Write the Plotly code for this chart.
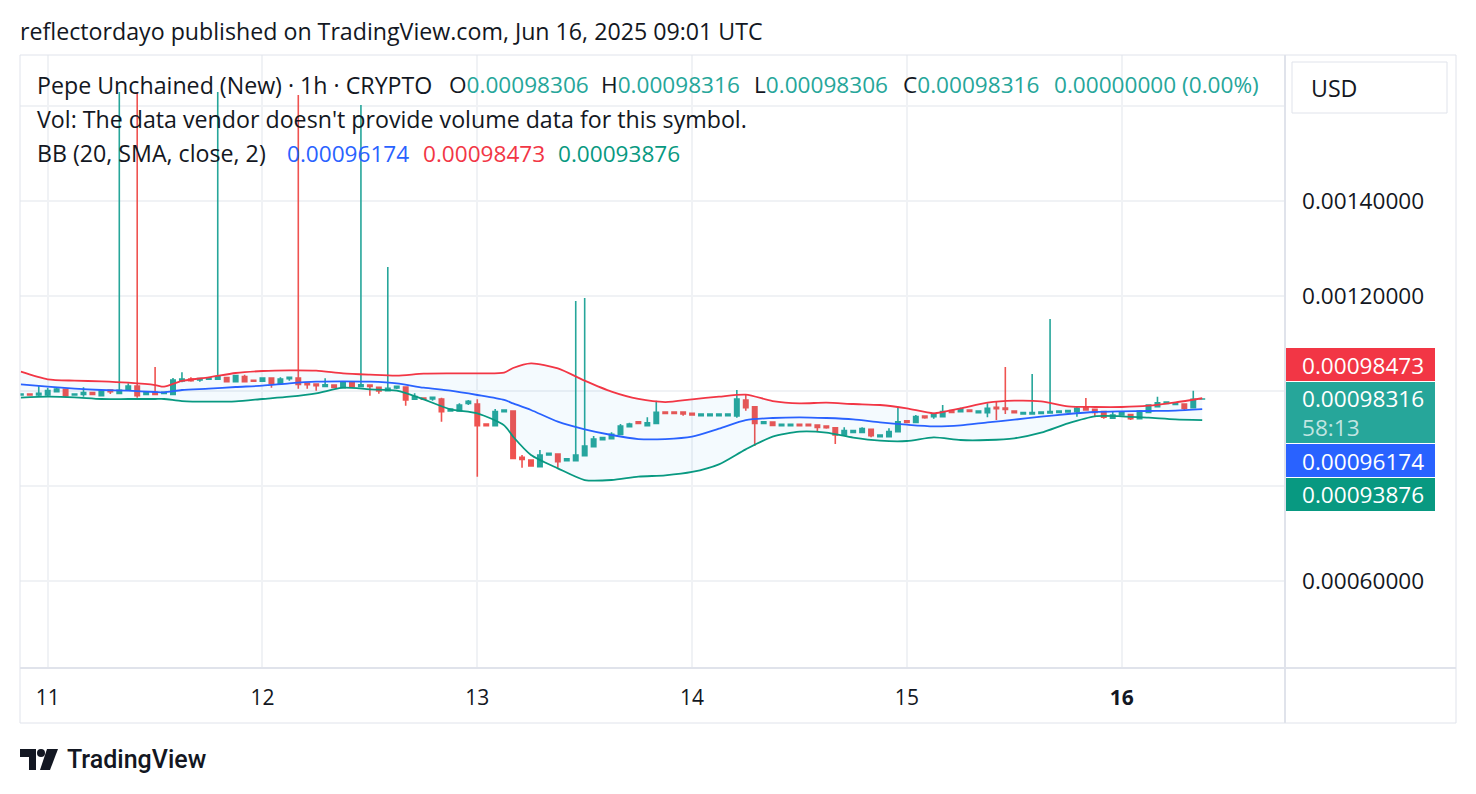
import plotly.graph_objects as go
import pandas as pd

# ---------------- data (hourly candles, Jun 10 21:00 -> Jun 16 09:00 UTC) ----------------
start_time = "2025-06-10 21:00"

open_ = [
    0.0009916, 0.0009937, 0.0009916,
    0.0009916, 0.0009986, 0.0010035, 0.0009916, 0.0009930, 0.0009965, 0.0009902, 0.0010021, 0.0009951, 0.0010021,
    0.0010105, 0.0009930, 0.0009972, 0.0009951, 0.0009930, 0.0010211, 0.0010253, 0.0010232, 0.0010246, 0.0010246,
    0.0010281, 0.0010196, 0.0010302, 0.0010225, 0.0010204, 0.0010274, 0.0010161, 0.0010260, 0.0010274, 0.0010161,
    0.0010147, 0.0010098, 0.0010126, 0.0010070, 0.0010175, 0.0010098, 0.0010126, 0.0010077, 0.0010007, 0.0010063,
    0.0010084, 0.0009825, 0.0009853, 0.0009832, 0.0009832, 0.0009579, 0.0009579, 0.0009740, 0.0009726, 0.0009305,
    0.0009270, 0.0009565, 0.0009579, 0.0008604, 0.0008547, 0.0008407, 0.0008653, 0.0008674, 0.0008533, 0.0008533,
    0.0008639, 0.0008828, 0.0008975, 0.0008996, 0.0009088, 0.0009249, 0.0009354, 0.0009270, 0.0009319, 0.0009558,
    0.0009558, 0.0009558, 0.0009530, 0.0009481, 0.0009481, 0.0009481, 0.0009481, 0.0009474, 0.0009811, 0.0009670,
    0.0009319, 0.0009347, 0.0009270, 0.0009270, 0.0009298, 0.0009298, 0.0009284, 0.0009263, 0.0009228, 0.0009074,
    0.0009130, 0.0009130, 0.0009193, 0.0009039, 0.0009039, 0.0009144, 0.0009375, 0.0009340, 0.0009474, 0.0009460,
    0.0009460, 0.0009586, 0.0009565, 0.0009600, 0.0009544, 0.0009544, 0.0009656, 0.0009642, 0.0009579, 0.0009516,
    0.0009516, 0.0009530, 0.0009537, 0.0009551, 0.0009558, 0.0009565, 0.0009670, 0.0009614, 0.0009565, 0.0009425,
    0.0009495, 0.0009502, 0.0009418, 0.0009551, 0.0009670, 0.0009740, 0.0009719, 0.0009726, 0.0009649, 0.00098306,
]
high = [
    0.0009944, 0.0009944, 0.0010105,
    0.0010070, 0.0010070, 0.0010042, 0.0009944, 0.0010077, 0.0009979, 0.0010007, 0.0010028, 0.0016295, 0.0010161,
    0.0016295, 0.0009972, 0.0010505, 0.0009979, 0.0010274, 0.0010393, 0.0010288, 0.0010274, 0.0010281, 0.0016295,
    0.0010288, 0.0010344, 0.0010344, 0.0010232, 0.0010288, 0.0010288, 0.0010288, 0.0010295, 0.0016232, 0.0010168,
    0.0010154, 0.0010267, 0.0010133, 0.0010182, 0.0010189, 0.0016021, 0.0010133, 0.0010084, 0.0012611, 0.0010105,
    0.0010091, 0.0009951, 0.0009860, 0.0009874, 0.0009860, 0.0009628, 0.0009740, 0.0009811, 0.0009825, 0.0009312,
    0.0009621, 0.0009607, 0.0009586, 0.0008653, 0.0008554, 0.0008758, 0.0008695, 0.0008681, 0.0008582, 0.0011895,
    0.0011958, 0.0009053, 0.0009025, 0.0009130, 0.0009305, 0.0009333, 0.0009361, 0.0009446, 0.0009796, 0.0009565,
    0.0009565, 0.0009565, 0.0009537, 0.0009523, 0.0009523, 0.0009523, 0.0009523, 0.0010021, 0.0009930, 0.0009677,
    0.0009361, 0.0009354, 0.0009305, 0.0009305, 0.0009305, 0.0009305, 0.0009291, 0.0009270, 0.0009235, 0.0009235,
    0.0009172, 0.0009235, 0.0009200, 0.0009081, 0.0009214, 0.0009656, 0.0009382, 0.0009495, 0.0009481, 0.0009544,
    0.0009705, 0.0009593, 0.0009649, 0.0009607, 0.0009586, 0.0009740, 0.0009775, 0.0010505, 0.0009586, 0.0009551,
    0.0010358, 0.0009565, 0.0011516, 0.0009586, 0.0009593, 0.0009670, 0.0009853, 0.0009621, 0.0009572, 0.0009579,
    0.0009551, 0.0009509, 0.0009600, 0.0009712, 0.0009881, 0.0009775, 0.0009761, 0.0009733, 0.0010007, 0.00098316,
]
low = [
    0.0009909, 0.0009909, 0.0009895,
    0.0009881, 0.0009972, 0.0009867, 0.0009909, 0.0009881, 0.0009916, 0.0009895, 0.0009937, 0.0009944, 0.0010014,
    0.0009860, 0.0009909, 0.0009923, 0.0009944, 0.0009923, 0.0010182, 0.0010196, 0.0010196, 0.0010239, 0.0010232,
    0.0010189, 0.0010189, 0.0010189, 0.0010196, 0.0010196, 0.0010070, 0.0010154, 0.0010218, 0.0010049, 0.0010049,
    0.0010007, 0.0010091, 0.0010070, 0.0010063, 0.0010084, 0.0010091, 0.0009902, 0.0009944, 0.0010000, 0.0010042,
    0.0009691, 0.0009818, 0.0009818, 0.0009796, 0.0009354, 0.0009572, 0.0009572, 0.0009705, 0.0008197, 0.0009263,
    0.0009263, 0.0009558, 0.0008575, 0.0008386, 0.0008414, 0.0008400, 0.0008646, 0.0008386, 0.0008526, 0.0008526,
    0.0008632, 0.0008821, 0.0008968, 0.0008989, 0.0009081, 0.0009242, 0.0009312, 0.0009263, 0.0009312, 0.0009523,
    0.0009523, 0.0009481, 0.0009488, 0.0009474, 0.0009474, 0.0009474, 0.0009474, 0.0009439, 0.0009586, 0.0008842,
    0.0009312, 0.0009270, 0.0009263, 0.0009263, 0.0009263, 0.0009263, 0.0009158, 0.0009207, 0.0008884, 0.0009067,
    0.0009123, 0.0009123, 0.0009025, 0.0009032, 0.0009032, 0.0009137, 0.0009333, 0.0009333, 0.0009418, 0.0009418,
    0.0009453, 0.0009544, 0.0009558, 0.0009565, 0.0009537, 0.0009446, 0.0009389, 0.0009516, 0.0009537, 0.0009509,
    0.0009509, 0.0009523, 0.0009530, 0.0009544, 0.0009551, 0.0009460, 0.0009586, 0.0009474, 0.0009418, 0.0009418,
    0.0009488, 0.0009389, 0.0009411, 0.0009544, 0.0009663, 0.0009733, 0.0009712, 0.0009579, 0.0009642, 0.00098306,
]
close = [
    0.0009937, 0.0009916, 0.0009951,
    0.0010007, 0.0010042, 0.0009895, 0.0009937, 0.0009965, 0.0009930, 0.0010000, 0.0009986, 0.0010014, 0.0010105,
    0.0009902, 0.0009965, 0.0009930, 0.0009972, 0.0010232, 0.0010253, 0.0010218, 0.0010260, 0.0010274, 0.0010302,
    0.0010196, 0.0010323, 0.0010196, 0.0010204, 0.0010274, 0.0010161, 0.0010253, 0.0010288, 0.0010140, 0.0010133,
    0.0010112, 0.0010133, 0.0010077, 0.0010175, 0.0010091, 0.0010133, 0.0010098, 0.0010000, 0.0010056, 0.0010098,
    0.0009811, 0.0009881, 0.0009825, 0.0009867, 0.0009565, 0.0009621, 0.0009705, 0.0009782, 0.0009270, 0.0009270,
    0.0009565, 0.0009600, 0.0008582, 0.0008561, 0.0008421, 0.0008653, 0.0008688, 0.0008512, 0.0008575, 0.0008653,
    0.0008842, 0.0008989, 0.0009018, 0.0009088, 0.0009263, 0.0009305, 0.0009319, 0.0009333, 0.0009551, 0.0009530,
    0.0009530, 0.0009516, 0.0009495, 0.0009516, 0.0009516, 0.0009516, 0.0009516, 0.0009832, 0.0009649, 0.0009319,
    0.0009354, 0.0009277, 0.0009298, 0.0009298, 0.0009270, 0.0009270, 0.0009235, 0.0009228, 0.0009074, 0.0009165,
    0.0009165, 0.0009207, 0.0009060, 0.0009074, 0.0009144, 0.0009354, 0.0009340, 0.0009460, 0.0009439, 0.0009516,
    0.0009565, 0.0009551, 0.0009621, 0.0009572, 0.0009579, 0.0009635, 0.0009628, 0.0009614, 0.0009544, 0.0009544,
    0.0009544, 0.0009558, 0.0009565, 0.0009579, 0.0009586, 0.0009635, 0.0009600, 0.0009551, 0.0009446, 0.0009495,
    0.0009544, 0.0009418, 0.0009579, 0.0009705, 0.0009754, 0.0009768, 0.0009754, 0.0009635, 0.0009825, 0.00098316,
]

# Bollinger Bands (20, SMA, close, 2), hours from Jun 11 00:00
bb_hours = [-3, 0, 3, 6, 9, 12, 13, 15, 18, 21, 24, 27, 30, 33, 36, 39, 42, 45, 48, 51, 52,
            54, 57, 60, 63, 66, 69, 72, 75, 78, 81, 84, 87, 90, 93, 96, 99, 102, 105, 108,
            111, 114, 117, 120, 123, 126, 129]
bb_upper = [0.0010407, 0.0010246, 0.0010218, 0.0010204, 0.0010175, 0.0010126, 0.0010091, 0.0010211,
            0.0010288, 0.0010379, 0.0010421, 0.0010435, 0.0010428, 0.0010372, 0.0010344, 0.0010323,
            0.0010365, 0.0010372, 0.0010372, 0.0010386, 0.0010484, 0.0010582, 0.0010477, 0.0010218,
            0.0009986, 0.0009832, 0.0009768, 0.0009825, 0.0009881, 0.0009923, 0.0009789, 0.0009740,
            0.0009754, 0.0009726, 0.0009705, 0.0009635, 0.0009530, 0.0009635, 0.0009754, 0.0009796,
            0.0009782, 0.0009677, 0.0009663, 0.0009663, 0.0009691, 0.0009761, 0.00098473]
bb_basis = [0.0010140, 0.0010091, 0.0010049, 0.0010021, 0.0010007, 0.0009979, 0.0009972, 0.0010021,
            0.0010049, 0.0010084, 0.0010112, 0.0010161, 0.0010196, 0.0010204, 0.0010196, 0.0010161,
            0.0010070, 0.0010007, 0.0009916, 0.0009811, 0.0009740, 0.0009600, 0.0009354, 0.0009193,
            0.0009074, 0.0008989, 0.0008989, 0.0009039, 0.0009207, 0.0009389, 0.0009432, 0.0009446,
            0.0009432, 0.0009404, 0.0009340, 0.0009291, 0.0009256, 0.0009277, 0.0009340, 0.0009396,
            0.0009460, 0.0009516, 0.0009558, 0.0009572, 0.0009579, 0.0009586, 0.00096174]
bb_lower = [0.0009860, 0.0009881, 0.0009867, 0.0009832, 0.0009832, 0.0009832, 0.0009832, 0.0009789,
            0.0009775, 0.0009782, 0.0009832, 0.0009881, 0.0009951, 0.0010070, 0.0010035, 0.0010007,
            0.0009825, 0.0009614, 0.0009530, 0.0009277, 0.0009039, 0.0008653, 0.0008372, 0.0008126,
            0.0008126, 0.0008197, 0.0008225, 0.0008295, 0.0008456, 0.0008772, 0.0009039, 0.0009144,
            0.0009123, 0.0009018, 0.0008954, 0.0008947, 0.0009025, 0.0008968, 0.0008968, 0.0009004,
            0.0009123, 0.0009319, 0.0009467, 0.0009467, 0.0009439, 0.0009404, 0.00093876]

day_ticks = ["2025-06-11", "2025-06-12", "2025-06-13", "2025-06-14", "2025-06-15", "2025-06-16"]
day_labels = ["11", "12", "13", "14", "15", "<b>16</b>"]
price_ticks = [0.0006, 0.0008, 0.0010, 0.0012, 0.0014, 0.0016]
price_labels = ["0.00060000", "", "", "0.00120000", "0.00140000", ""]

# ---------------- styling ----------------
FONT = "'Open Sans', Roboto, sans-serif"
TXT = "#131722"
UP, DOWN = "#26a69a", "#ef5350"
C_UPPER, C_BASIS, C_LOWER = "#F23645", "#2962FF", "#089981"
GRID = "#f0f2f5"
BORDER = "#e0e3eb"
FS_NUM = 22.6      # numbers
FS_TXT = 23.2      # words

W, H = 1476, 794
PL, PR, PT, PB = 20, 1285, 55, 668      # plot area in page pixels


def px(x):
    return (x - PL) / (PR - PL)


def py(y):
    return (PB - y) / (PB - PT)


times = pd.date_range(start_time, periods=len(open_), freq="h")
bb_times = [pd.Timestamp("2025-06-11 00:00") + pd.Timedelta(hours=h) for h in bb_hours]

fig = go.Figure()
fig.add_trace(go.Scatter(x=bb_times, y=bb_upper, mode="lines",
                         line=dict(color=C_UPPER, width=1.8, shape="spline", smoothing=0.7),
                         hoverinfo="skip", showlegend=False))
fig.add_trace(go.Scatter(x=bb_times, y=bb_lower, mode="lines",
                         line=dict(color=C_LOWER, width=1.8, shape="spline", smoothing=0.7),
                         fill="tonexty", fillcolor="rgba(33,150,243,0.05)",
                         hoverinfo="skip", showlegend=False))
fig.add_trace(go.Scatter(x=bb_times, y=bb_basis, mode="lines",
                         line=dict(color=C_BASIS, width=1.8, shape="spline", smoothing=0.7),
                         hoverinfo="skip", showlegend=False))
fig.add_trace(go.Candlestick(
    x=times, open=open_, high=high, low=low, close=close,
    increasing=dict(line=dict(color=UP, width=1.6), fillcolor=UP),
    decreasing=dict(line=dict(color=DOWN, width=1.6), fillcolor=DOWN),
    whiskerwidth=0, showlegend=False))

fig.update_layout(
    width=W, height=H,
    margin=dict(l=PL, r=W - PR, t=PT, b=H - PB),
    paper_bgcolor="white", plot_bgcolor="white",
    font=dict(family=FONT, size=FS_NUM, color=TXT),
    showlegend=False,
    xaxis=dict(type="date", range=["2025-06-10 20:54:18", "2025-06-16 18:15:00"],
               tickvals=day_ticks, ticktext=day_labels, showgrid=True, gridcolor=GRID,
               gridwidth=1.5, zeroline=False, showline=False, ticks="",
               tickfont=dict(size=21, color=TXT, family=FONT), ticklabelstandoff=15,
               rangeslider=dict(visible=False), fixedrange=True),
    yaxis=dict(side="right", range=[0.00041684, 0.0017074], tickvals=price_ticks,
               ticktext=price_labels, showgrid=True, gridcolor=GRID, gridwidth=1.5,
               zeroline=False, showline=False, ticks="",
               tickfont=dict(size=FS_NUM, color=TXT, family=FONT), ticklabelstandoff=16,
               fixedrange=True),
)


def rect(x0, y0, x1, y1, fill=None, line=None, lw=0):
    fig.add_shape(type="rect", xref="paper", yref="paper",
                  x0=px(x0), x1=px(x1), y0=py(y1), y1=py(y0),
                  fillcolor=fill if fill else "rgba(0,0,0,0)",
                  line=dict(color=line if line else "rgba(0,0,0,0)", width=lw),
                  layer="above")


def hline(x0, x1, y, color=BORDER, lw=1.5):
    fig.add_shape(type="line", xref="paper", yref="paper", x0=px(x0), x1=px(x1),
                  y0=py(y), y1=py(y), line=dict(color=color, width=lw), layer="above")


def vline(x, y0, y1, color=BORDER, lw=1.5):
    fig.add_shape(type="line", xref="paper", yref="paper", x0=px(x), x1=px(x),
                  y0=py(y0), y1=py(y1), line=dict(color=color, width=lw), layer="above")


def text(x, y, s, size=FS_NUM, color=TXT, anchor="left", family=FONT, weight=None):
    f = dict(size=size, color=color, family=family)
    if weight:
        f["weight"] = weight
    fig.add_annotation(x=px(x), y=py(y), xref="paper", yref="paper", text=s, showarrow=False,
                       xanchor=anchor, yanchor="middle", align="left", font=f)


def path(points, fill):
    d = "M " + " L ".join(f"{px(a):.5f},{py(b):.5f}" for a, b in points) + " Z"
    fig.add_shape(type="path", xref="paper", yref="paper", path=d, fillcolor=fill,
                  line=dict(width=0), layer="above")


def c(s, col):
    return f"<span style='color:{col}'>{s}</span>"


# frame
hline(PL, 1456, 55, lw=1)
hline(PL, 1456, 723, lw=1)
vline(PL, 55, 723, lw=1)
vline(1456, 55, 723, lw=1)
hline(PL, 1456, PB, lw=2)
vline(PR, 55, 723, lw=2)

# title
text(18, 31, "reflectordayo published on TradingView.com, Jun 16, 2025 09:01 UTC", size=FS_TXT)

# legend row 1
text(35, 85, "Pepe Unchained (New) · 1h · CRYPTO", size=FS_TXT)
text(447, 85, "O" + c("0.00098306", UP))
text(599, 85, "H" + c("0.00098316", UP))
text(752, 85, "L" + c("0.00098306", UP))
text(901, 85, "C" + c("0.00098316", UP))
text(1052, 85, c("0.00000000 (0.00%)", UP))
# legend row 2
text(35, 119, "Vol: The data vendor doesn't provide volume data for this symbol.", size=FS_TXT)
# legend row 3
text(35, 153, "BB (20, SMA, close, 2)", size=FS_TXT)
text(285, 153, c("0.00096174", C_BASIS))
text(421, 153, c("0.00098473", C_UPPER))
text(556, 153, c("0.00093876", C_LOWER))

# USD button
fig.add_shape(type="rect", xref="paper", yref="paper", x0=px(1292), x1=px(1447),
              y0=py(113), y1=py(62), line=dict(color=BORDER, width=1), fillcolor="white",
              layer="above")
text(1309, 88, "USD", size=FS_TXT)

# price labels on the scale
rect(1286, 348, 1435, 381, fill=C_UPPER)
text(1300, 365, "0.00098473", color="white")
rect(1286, 382, 1435, 443, fill=UP)
text(1300, 413, "0.00098316<br>" + c("58:13", "rgba(255,255,255,0.72)"), color="white")
rect(1286, 444, 1435, 477, fill=C_BASIS)
text(1300, 461, "0.00096174", color="white")
rect(1286, 478, 1435, 511, fill=C_LOWER)
text(1300, 494, "0.00093876", color="white")

# TradingView footer logo
path([(20, 749), (36, 749), (36, 770), (29, 770), (29, 757), (20, 757)], "#131722")
fig.add_shape(type="circle", xref="paper", yref="paper", x0=px(37), x1=px(45),
              y0=py(757), y1=py(749), fillcolor="#131722", line=dict(width=0), layer="above")
path([(47, 749), (58, 749), (50, 770), (40, 770)], "#131722")
text(65, 759, "TradingView", size=25, family="Roboto, sans-serif", weight=500)

fig.write_html("out.html", include_plotlyjs=True, config=dict(displayModeBar=False))
